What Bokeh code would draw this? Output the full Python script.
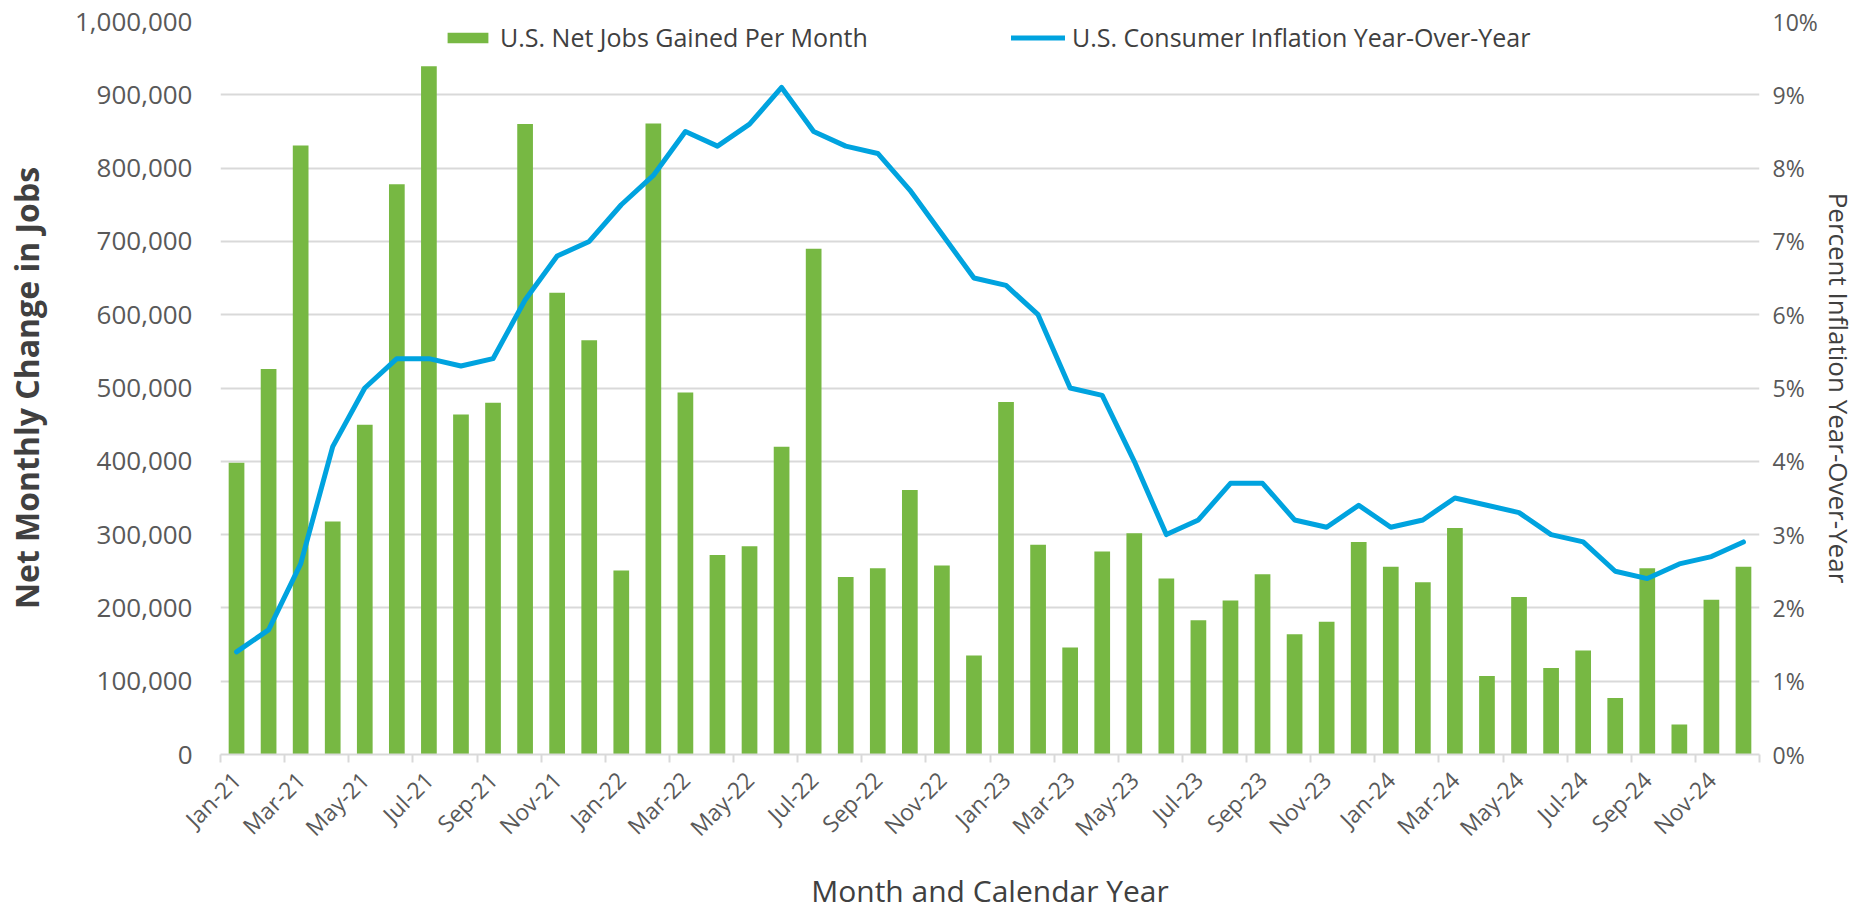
import math
from bokeh.plotting import figure
from bokeh.models import (ColumnDataSource, LinearAxis, Range1d, FixedTicker,
                          NumeralTickFormatter, PrintfTickFormatter, Legend, LegendItem)
from bokeh.embed import file_html
from bokeh.resources import INLINE

months = [f"{m}-{y}" for y in ["21", "22", "23", "24"]
          for m in ["Jan", "Feb", "Mar", "Apr", "May", "Jun",
                    "Jul", "Aug", "Sep", "Oct", "Nov", "Dec"]]

jobs = [398000, 526000, 831000, 318000, 450000, 778000, 939000, 464000, 480000, 860000, 630000, 565000,
        251000, 861000, 494000, 272000, 284000, 420000, 690000, 242000, 254000, 361000, 258000, 135000,
        481000, 286000, 146000, 277000, 302000, 240000, 183000, 210000, 246000, 164000, 181000, 290000,
        256000, 235000, 309000, 107000, 215000, 118000, 142000, 77000, 254000, 41000, 211000, 256000]

inflation = [1.4, 1.7, 2.6, 4.2, 5.0, 5.4, 5.4, 5.3, 5.4, 6.2, 6.8, 7.0,
             7.5, 7.9, 8.5, 8.3, 8.6, 9.1, 8.5, 8.3, 8.2, 7.7, 7.1, 6.5,
             6.4, 6.0, 5.0, 4.9, 4.0, 3.0, 3.2, 3.7, 3.7, 3.2, 3.1, 3.4,
             3.1, 3.2, 3.5, 3.4, 3.3, 3.0, 2.9, 2.5, 2.4, 2.6, 2.7, 2.9]

bar_label = "U.S. Net Jobs Gained Per Month"
line_label = "U.S. Consumer Inflation Year-Over-Year"

FONT = "Open Sans"
GREEN = "#77B843"
BLUE = "#00A3DF"
GRID = "#D9D9D9"
TICK = "#595959"
TITLE = "#404040"

idx = list(range(len(months)))
src = ColumnDataSource(dict(x=idx, jobs=jobs, infl=inflation, m=months))

p = figure(width=1859, height=916, output_backend="svg", toolbar_location=None,
           x_range=Range1d(-0.5, len(months) - 0.5), y_range=Range1d(0, 1000000),
           min_border_left=220, min_border_right=100, min_border_top=21, min_border_bottom=162)
p.extra_y_ranges = {"pct": Range1d(0, 10)}
p.outline_line_color = None
p.background_fill_color = "white"
p.border_fill_color = "white"

bars = p.vbar(x="x", top="jobs", width=0.49, source=src, fill_color=GREEN, line_color=None)
line = p.line(x="x", y="infl", source=src, y_range_name="pct", line_color=BLUE,
              line_width=5, line_join="round", line_cap="round")

# x axis
xa = p.xaxis[0]
xa.ticker = FixedTicker(ticks=list(range(0, len(months), 2)),
                        minor_ticks=[i - 0.5 for i in range(0, len(months) + 1, 2)])
xa.major_label_overrides = {i: months[i] for i in range(0, len(months), 2)}
xa.major_label_orientation = math.pi / 4
xa.major_tick_line_color = None
xa.minor_tick_line_color = GRID
xa.minor_tick_line_width = 2
xa.minor_tick_out = 8
xa.minor_tick_in = 0
xa.axis_line_color = GRID
xa.axis_line_width = 2
xa.major_label_text_font = FONT
xa.major_label_text_font_size = "23px"
xa.major_label_text_color = TICK
xa.major_label_standoff = 13
xa.axis_label = "Month and Calendar Year"
xa.axis_label_text_font = FONT
xa.axis_label_text_font_size = "30px"
xa.axis_label_text_font_style = "normal"
xa.axis_label_text_color = TITLE
xa.axis_label_standoff = 13

# left axis
ya = p.yaxis[0]
ya.ticker = FixedTicker(ticks=list(range(0, 1000001, 100000)))
ya.formatter = NumeralTickFormatter(format="0,0")
ya.axis_line_color = None
ya.major_tick_line_color = None
ya.minor_tick_line_color = None
ya.major_label_text_font = FONT
ya.major_label_text_font_size = "26px"
ya.major_label_text_color = TICK
ya.major_label_standoff = 22
ya.axis_label = "Net Monthly Change in Jobs"
ya.axis_label_text_font = FONT
ya.axis_label_text_font_size = "32px"
ya.axis_label_text_font_style = "bold"
ya.axis_label_text_color = TITLE
ya.axis_label_standoff = 24

# right axis
ra = LinearAxis(y_range_name="pct", ticker=FixedTicker(ticks=list(range(0, 11))),
                formatter=PrintfTickFormatter(format="%d%%"))
ra.axis_line_color = None
ra.major_tick_line_color = None
ra.minor_tick_line_color = None
ra.major_label_text_font = FONT
ra.major_label_text_font_size = "23px"
ra.major_label_text_color = TICK
ra.major_label_standoff = 7
ra.axis_label = "Percent Inflation Year-Over-Year"
ra.axis_label_text_font = FONT
ra.axis_label_text_font_size = "26px"
ra.axis_label_text_font_style = "normal"
ra.axis_label_text_color = TITLE
ra.axis_label_standoff = 0
p.add_layout(ra, "right")

p.xgrid.visible = False
p.ygrid.grid_line_color = GRID
p.ygrid.grid_line_width = 2

def make_legend(item, loc, gw):
    lg = Legend(items=[item], location=loc, orientation="horizontal",
                glyph_width=gw, glyph_height=13, label_standoff=7,
                label_text_font=FONT, label_text_font_size="25px",
                label_text_color=TITLE, label_height=28,
                padding=0, margin=0, spacing=0,
                border_line_color=None, background_fill_alpha=0)
    return lg

frame_h = 916 - 21 - 162
p.add_layout(make_legend(LegendItem(label=bar_label, renderers=[bars]), (222, frame_h - 33), 51), "center")
p.add_layout(make_legend(LegendItem(label=line_label, renderers=[line]), (791, frame_h - 33), 54), "center")

open("out.html", "w").write(file_html(p, INLINE))
